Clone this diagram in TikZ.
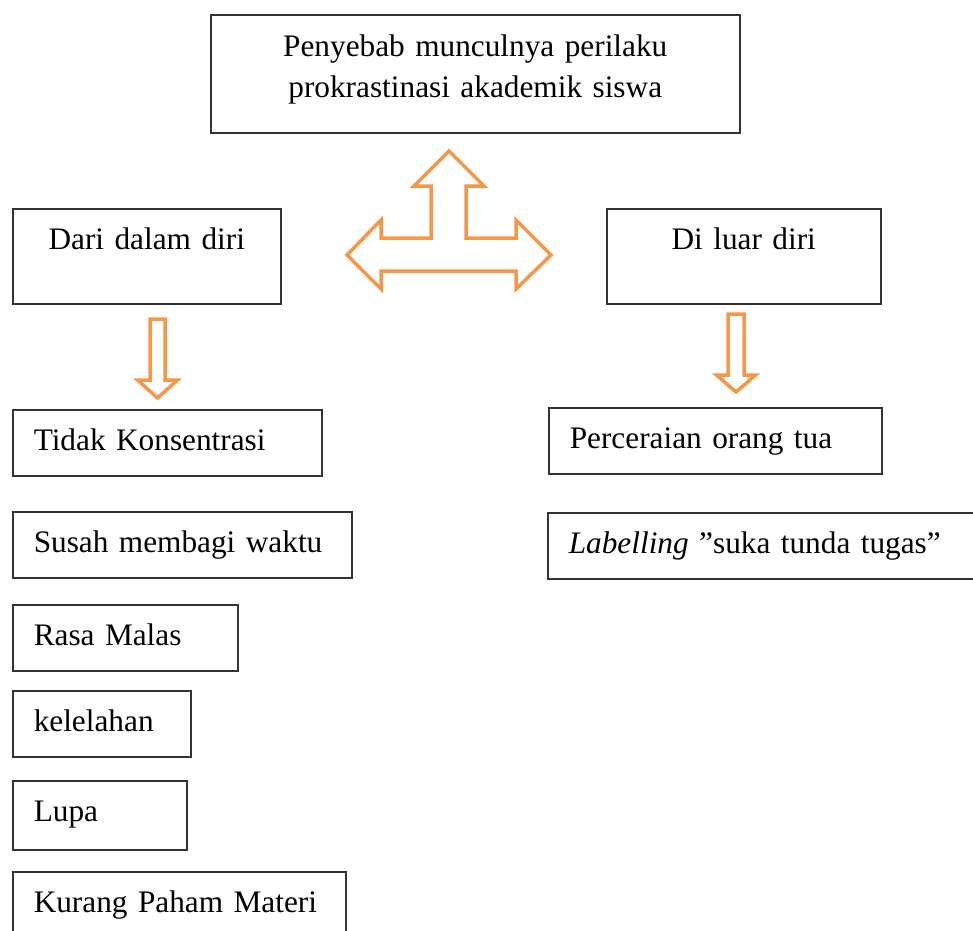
\documentclass[tikz,border=0pt]{standalone}
\usepackage{fontspec}
\setmainfont{Liberation Serif}
\usepackage{tikz}
\usetikzlibrary{calc}

\definecolor{arroworange}{HTML}{F79646}

\tikzset{
  box/.style={draw=black!80, line width=1.5pt, anchor=north west, inner xsep=0pt, inner ysep=0pt,
    text height=41pt, text depth=25pt, font=\fontsize{31.3pt}{41pt}\selectfont},
  itembox/.style={box, inner xsep=21pt, align=left},
  headbox/.style={box, align=center},
  hollowarrow/.style={draw=arroworange, line width=3.5pt, fill=white}
}

\begin{document}
\begin{tikzpicture}[x=1pt, y=-1pt]
    \useasboundingbox (0,0) rectangle (973,930);

    \node[headbox, text width=529pt, text height=42pt, text depth=76pt] (cause) at (210,14)
      {Penyebab munculnya perilaku\\prokrastinasi akademik siswa};
    \node[headbox, text width=268pt, text depth=54pt] (inner) at (12,208) {Dari dalam diri};
    \node[headbox, text width=274pt, text depth=54pt] (outer) at (606,208) {Di luar diri};

    \node[itembox, text width=267pt] (konsentrasi) at (12,409) {Tidak Konsentrasi};
    \node[itembox, text width=297pt] (waktu) at (12,511) {Susah membagi waktu};
    \node[itembox, text width=183pt] (malas) at (12,604) {Rasa Malas};
    \node[itembox, text width=136pt] (lelah) at (12,690) {kelelahan};
    \node[itembox, text width=132pt, text depth=28pt] (lupa) at (12,780) {Lupa};
    \node[itembox, text width=291pt, text depth=80pt] (materi) at (12,871) {Kurang Paham Materi};

    \node[itembox, text width=291pt] (cerai) at (548,407) {Perceraian orang tua};
    \node[itembox, text width=398pt] (label) at (547,512) {\textit{Labelling} ”suka tunda tugas”};

    \coordinate (hub) at (449,255);
    \draw[hollowarrow] (449,151) -- (484,186) -- (466,186) -- (466,238) -- (516,238) -- (516,220)
      -- (551,255) -- (516,289) -- (516,271) -- (381,271) -- (381,289) -- (347,255) -- (381,220)
      -- (381,238) -- (431,238) -- (431,186) -- (414,186) -- cycle;

    \draw[hollowarrow] (150,319) -- (165,319) -- (165,380) -- (177.5,380) -- (157.5,398)
      -- (137.5,380) -- (150,380) -- cycle;
    \draw[hollowarrow] (728,314) -- (744,314) -- (744,375) -- (755.5,375) -- (736,392)
      -- (716.5,375) -- (728,375) -- cycle;

\end{tikzpicture}
\end{document}
